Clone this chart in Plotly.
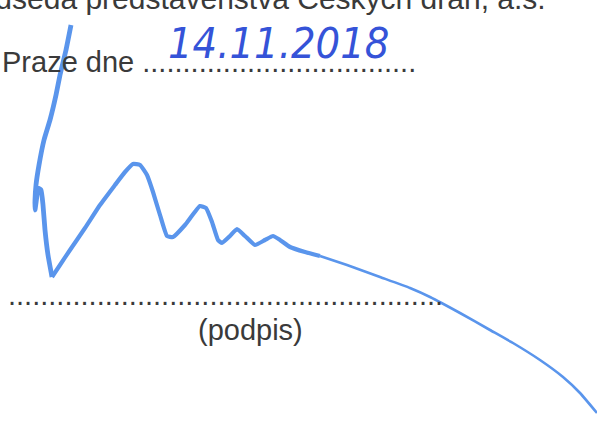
import plotly.graph_objects as go

W, H = 597, 423

# Printed texts
header_text = "předseda představenstva Českých drah, a.s."
place_label = "Praze dne"
place_dots = 34
sign_dots = 54
sign_label = "(podpis)"
date_text = "14.11.2018"

# Handwritten signature strokes (page pixel coordinates, y downward)
head_x = [71, 66, 60, 56, 50, 44, 39, 36, 35, 35, 37, 38, 41, 43, 45, 48, 52]
head_y = [25, 50, 75, 95, 120, 140, 165, 185, 200, 210, 195, 188, 190, 205, 230, 255, 277]
body_x = [52, 60, 70, 85, 100, 115, 125, 133, 140, 147, 153, 160, 167, 173, 185, 200,
          206, 212, 218, 222, 230, 237, 245, 255, 265, 273, 280, 290, 305, 320]
body_y = [277, 265, 250, 228, 205, 185, 172, 164, 165, 175, 192, 215, 236, 237, 225, 206,
          208, 222, 240, 243, 236, 229, 236, 245, 240, 236, 240, 247, 252, 256]
tail_x = [320, 347, 380, 410, 430, 460, 490, 513, 540, 563, 580, 597]
tail_y = [256, 265, 277, 288, 297, 313, 330, 343, 360, 377, 393, 413]

ink = "#5a95ec"
date_ink = "#3553d8"
print_col = "#3a3a3a"
font_print = "Arial, Liberation Sans, sans-serif"

fig = go.Figure()
for xs, ys, w in [(head_x, head_y, 4.8), (body_x, body_y, 4.2), (tail_x, tail_y, 2.6)]:
    fig.add_trace(go.Scatter(x=xs, y=ys, mode="lines",
                             line=dict(color=ink, width=w, shape="spline", smoothing=0.4),
                             hoverinfo="skip", showlegend=False))

# header line sits partly above the top edge of the page (cut off as in the scan)
fig.add_annotation(x=548 / W, y=(H + 1.5) / H, xref="paper", yref="paper",
                   text=header_text, showarrow=False,
                   xanchor="right", yanchor="middle",
                   font=dict(family=font_print, size=30, color=print_col))
fig.add_annotation(x=0, y=61.5, xref="x", yref="y",
                   text=place_label + " " + "." * place_dots, showarrow=False,
                   xanchor="left", yanchor="middle",
                   font=dict(family=font_print, size=29, color=print_col))
fig.add_annotation(x=6, y=294.5, xref="x", yref="y", text="." * sign_dots, showarrow=False,
                   xanchor="left", yanchor="middle",
                   font=dict(family=font_print, size=29, color=print_col))
fig.add_annotation(x=250, y=329.5, xref="x", yref="y", text=sign_label, showarrow=False,
                   xanchor="center", yanchor="middle",
                   font=dict(family=font_print, size=29, color=print_col))
fig.add_annotation(x=278, y=43, xref="x", yref="y", text=date_text, showarrow=False,
                   xanchor="center", yanchor="middle",
                   font=dict(family="Liberation Sans Narrow, DejaVu Sans Condensed, sans-serif",
                             size=43, color=date_ink, style="italic"))

fig.update_layout(
    width=W, height=H,
    margin=dict(l=0, r=0, t=0, b=0),
    paper_bgcolor="white", plot_bgcolor="white",
    xaxis=dict(range=[0, W], visible=False, fixedrange=True),
    yaxis=dict(range=[H, 0], visible=False, fixedrange=True),
)
fig.write_html("out.html", config={"displayModeBar": False},
               post_script="document.body.style.margin='0';document.body.style.overflow='hidden';")
